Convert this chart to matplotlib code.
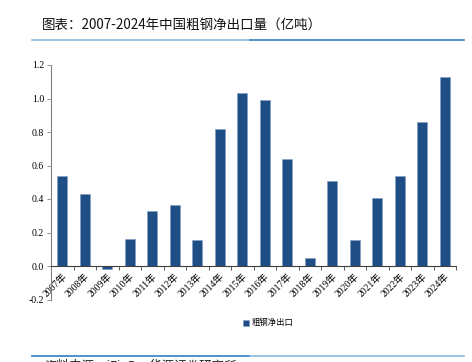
import matplotlib.pyplot as plt
from matplotlib.lines import Line2D
import numpy as np

years = ['2007年', '2008年', '2009年', '2010年', '2011年', '2012年', '2013年', '2014年', '2015年',
         '2016年', '2017年', '2018年', '2019年', '2020年', '2021年', '2022年', '2023年', '2024年']
net_export = [0.54, 0.43, -0.02, 0.16, 0.33, 0.365, 0.155, 0.82, 1.03,
              0.99, 0.64, 0.046, 0.51, 0.155, 0.405, 0.537, 0.86, 1.13]
yticks = [-0.2, 0.0, 0.2, 0.4, 0.6, 0.8, 1.0, 1.2]

serif = ['Liberation Serif', 'Noto Sans CJK SC']
cjk = ['Noto Sans CJK SC', 'DejaVu Sans']

W, H = 472, 362
fig = plt.figure(figsize=(W / 100, H / 100), dpi=100)
ax = fig.add_axes([51 / W, (H - 299.5) / H, 405 / W, 234.5 / H])

x = np.arange(len(years))
ax.bar(x, net_export, width=0.45, color='#1F4E87', edgecolor='#7F9CC0', linewidth=0.4,
       label='粗钢净出口', zorder=2)

ax.set_xlim(-0.5, len(years) - 0.5)
ax.set_ylim(-0.2, 1.2)
ax.set_yticks(yticks)
ax.set_yticklabels(['%.1f' % v for v in yticks], fontsize=7, family=serif)

ax.spines['top'].set_visible(False)
ax.spines['right'].set_visible(False)
ax.spines['left'].set_color('#808080')
ax.spines['bottom'].set_color('#404040')
ax.spines['bottom'].set_position(('data', 0))
ax.tick_params(axis='y', direction='out', length=3, width=0.6, color='#808080', pad=2)

ax.set_xticks(x)
ax.set_xticklabels(years, rotation=45, ha='right', va='top', rotation_mode='anchor',
                   fontsize=7, family=serif)
ax.tick_params(axis='x', which='major', length=0, pad=4)
ax.set_xticks(np.arange(len(years) + 1) - 0.5, minor=True)
ax.tick_params(axis='x', which='minor', direction='out', length=3, width=0.6, color='#404040')

fig.text(42 / W, 1 - 25 / H, '图表：2007-2024年中国粗钢净出口量（亿吨）', family=cjk,
         fontsize=9.7, va='center', ha='left', color='#111111')
fig.add_artist(Line2D([32 / W, 250 / W], [1 - 40 / H] * 2, color='#8DBBE3', lw=1.2))
fig.add_artist(Line2D([250 / W, 464 / W], [1 - 40 / H] * 2, color='#2F7FC6', lw=1.2))
fig.add_artist(Line2D([32 / W, 250 / W], [1 - 355.5 / H] * 2, color='#2F7FC6', lw=1.2))
fig.add_artist(Line2D([250 / W, 464 / W], [1 - 355.5 / H] * 2, color='#8DBBE3', lw=1.2))
fig.text(44 / W, 1 - 360 / H, '资料来源：iFinD，华源证券研究所', family=cjk,
         fontsize=9, va='top', ha='left', color='#222222')

ax.legend(loc='center', bbox_to_anchor=(268 / W, 1 - 323 / H), bbox_transform=fig.transFigure,
          frameon=False, prop={'family': cjk, 'size': 6}, handlelength=0.7, handleheight=0.7,
          handletextpad=0.3)

fig.savefig('out.png', dpi=100, facecolor='white')
